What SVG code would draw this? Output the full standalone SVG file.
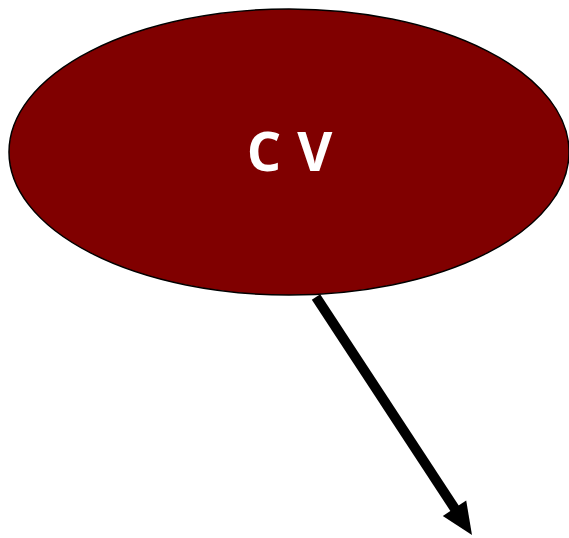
<svg xmlns="http://www.w3.org/2000/svg" width="569" height="538" viewBox="0 0 569 538">
<style>
.node{fill:#800000;stroke:#000;stroke-width:1.5}
.label{fill:#fff;font-family:"Open Sans","Liberation Sans",sans-serif;font-weight:bold;font-size:54px}
.edge{stroke:#000;stroke-width:10;fill:none}
</style>
<rect width="569" height="538" fill="#fff"/>
<g id="node-cv">
<ellipse class="node" cx="289" cy="152" rx="280" ry="143"/>
<text class="label" x="290" y="171" text-anchor="middle" letter-spacing="1">C V</text>
</g>
<g id="connectors">
<line class="edge" x1="316" y1="297" x2="457" y2="512"/>
<polygon points="472,535 442.8,515.9 466.2,500.5" fill="#000"/>
</g>
</svg>
